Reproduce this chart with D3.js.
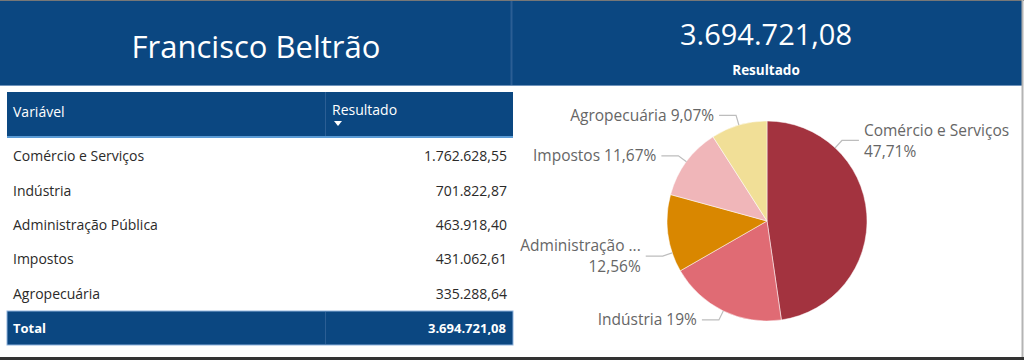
<!DOCTYPE html>
<html>
<head>
<meta charset="utf-8">
<script src="https://cdn.jsdelivr.net/npm/d3@7"></script>
<style>
  body { margin: 0; background: #fff; }
  svg { display: block; font-family: "Open Sans", "Noto Sans", sans-serif; }
</style>
</head>
<body>
<svg id="chart" width="1024" height="360"></svg>
<script>
// data
const cityName = "Francisco Beltrão";
const categories = ["Comércio e Serviços", "Indústria", "Administração Pública", "Impostos", "Agropecuária"];
const values = [1762628.55, 701822.87, 463918.40, 431062.61, 335288.64];
const totalValue = 3694721.08;
const columnHeaders = ["Variável", "Resultado"];
const kpiLabel = "Resultado";
const totalLabel = "Total";

const colors = ["#a3333f", "#e06b74", "#d98700", "#f0b6b9", "#f1df97"];
const navy = "#0b4781";

const locale = d3.formatLocale({decimal: ",", thousands: ".", grouping: [3], currency: ["R$", ""]});
const fmtNum = locale.format(",.2f");
function fmtPct(v) {
    return (+(v * 100).toFixed(2)).toString().replace(".", ",") + "%";
}

const svg = d3.select("#chart");

// frame + header band
svg.append("rect").attr("x", 0).attr("y", 0).attr("width", 1024).attr("height", 360).attr("fill", "#fff");
svg.append("rect").attr("x", 0).attr("y", 1).attr("width", 1022).attr("height", 84).attr("fill", navy);
svg.append("line").attr("x1", 0).attr("x2", 1022).attr("y1", 85.5).attr("y2", 85.5).attr("stroke", "#6f93bb");
svg.append("line").attr("x1", 511.5).attr("x2", 511.5).attr("y1", 1).attr("y2", 85).attr("stroke", "#2b5e94").attr("stroke-width", 2);
svg.append("line").attr("x1", 0).attr("x2", 1024).attr("y1", 0.5).attr("y2", 0.5).attr("stroke", "#777");
svg.append("line").attr("x1", 1022.5).attr("x2", 1022.5).attr("y1", 0).attr("y2", 360).attr("stroke", "#b4b4b4").attr("stroke-width", 2);
svg.append("line").attr("x1", 0).attr("x2", 1024).attr("y1", 358.5).attr("y2", 358.5).attr("stroke", "#333").attr("stroke-width", 3);

// title cards
svg.append("text").attr("x", 256).attr("y", 47).attr("dy", "0.35em")
    .attr("text-anchor", "middle").attr("fill", "#fff").style("font-size", "31px")
    .text(cityName);
svg.append("text").attr("x", 766).attr("y", 35).attr("dy", "0.35em")
    .attr("text-anchor", "middle").attr("fill", "#fff").style("font-size", "29px")
    .text(fmtNum(totalValue));
svg.append("text").attr("x", 766).attr("y", 70).attr("dy", "0.35em")
    .attr("text-anchor", "middle").attr("fill", "#fff").style("font-size", "13.5px").style("font-weight", "bold")
    .text(kpiLabel);

// table
const tLeft = 7, tRight = 513, tDiv = 325;
const table = svg.append("g");
table.append("rect").attr("x", tLeft).attr("y", 92).attr("width", tRight - tLeft).attr("height", 45).attr("fill", navy);
table.append("line").attr("x1", tLeft).attr("x2", tRight).attr("y1", 137).attr("y2", 137).attr("stroke", "#5b9bd5").attr("stroke-width", 2);
table.append("line").attr("x1", tDiv + 0.5).attr("x2", tDiv + 0.5).attr("y1", 92).attr("y2", 136).attr("stroke", "#2b5e94");
table.append("text").attr("x", 13).attr("y", 112).attr("dy", "0.35em").attr("fill", "#fff")
    .style("font-size", "14px").text(columnHeaders[0]);
table.append("text").attr("x", 332).attr("y", 110).attr("dy", "0.35em").attr("fill", "#fff")
    .style("font-size", "14px").text(columnHeaders[1]);
table.append("path").attr("d", "M334,121 L342,121 L338,126 Z").attr("fill", "#fff");

const y = d3.scaleBand().domain(categories).range([139, 311]);
const rows = table.selectAll("g.row").data(categories).enter().append("g").attr("class", "row");
rows.append("text").attr("x", 13).attr("y", d => y(d) + y.bandwidth() / 2).attr("dy", "0.35em")
    .attr("fill", "#2b2a29").style("font-size", "14px").text(d => d);
rows.append("text").attr("x", 507).attr("y", d => y(d) + y.bandwidth() / 2).attr("dy", "0.35em")
    .attr("text-anchor", "end").attr("fill", "#2b2a29").style("font-size", "14px")
    .text((d, i) => fmtNum(values[i]));

table.append("rect").attr("x", tLeft).attr("y", 311).attr("width", tRight - tLeft).attr("height", 34).attr("fill", navy)
    .attr("stroke", "#8fb3dd").attr("stroke-width", 1);
table.append("line").attr("x1", tDiv + 0.5).attr("x2", tDiv + 0.5).attr("y1", 312).attr("y2", 344).attr("stroke", "#2b5e94");
table.append("text").attr("x", 13).attr("y", 328).attr("dy", "0.35em").attr("fill", "#fff")
    .style("font-size", "13px").style("font-weight", "bold").text(totalLabel);
table.append("text").attr("x", 506).attr("y", 328).attr("dy", "0.35em").attr("text-anchor", "end").attr("fill", "#fff")
    .style("font-size", "13px").style("font-weight", "bold").text(fmtNum(totalValue));

// pie
const cx = 767, cy = 221, r = 100;
const pieData = d3.pie().sort(null).value(d => d.v)(categories.map((c, i) => ({c: c, v: values[i], i: i})));
const arc = d3.arc().innerRadius(0).outerRadius(r);
const pieG = svg.append("g").attr("transform", `translate(${cx},${cy})`);
pieG.selectAll("path").data(pieData).enter().append("path")
    .attr("d", arc).attr("fill", d => colors[d.data.i]).attr("stroke", "#fff").attr("stroke-width", 0.5);

// labels; two-line (wrapped) labels get pulled to a quarter of their slice, like Power BI does
const elbowR = 110, legLen = 17, gap = 5, labelSize = "15.5px";
const panelLeft = 514 - cx, panelRight = 1018 - cx;

function textWidth(s) {
    const t = pieG.append("text").style("font-size", labelSize).text(s);
    const w = t.node().getComputedTextLength();
    t.remove();
    return w;
}

pieData.forEach(d => {
    const name = d.data.c, pct = fmtPct(d.data.v / totalValue);
    let a = (d.startAngle + d.endAngle) / 2;
    const right = Math.sin(a) > 0;
    const txAt = ang => Math.sin(ang) * elbowR + (right ? legLen + gap : -legLen - gap);
    const availAt = ang => right ? panelRight - txAt(ang) : txAt(ang) - panelLeft;
    const wrap = textWidth(name + " " + pct) > availAt(a);
    if (wrap) a = d.startAngle + (d.endAngle - d.startAngle) * 0.25;

    const p0 = [Math.sin(a) * r, -Math.cos(a) * r];
    const p1 = [Math.sin(a) * elbowR, -Math.cos(a) * elbowR];
    const p2 = [p1[0] + (right ? legLen : -legLen), p1[1]];
    pieG.append("polyline").attr("points", [p0, p1, p2].map(p => p.join(",")).join(" "))
        .attr("fill", "none").attr("stroke", "#bdbdbd").attr("stroke-width", 1.2);

    const tx = txAt(a), avail = availAt(a);
    const t = pieG.append("text").attr("x", tx).attr("y", p1[1]).attr("dy", "0.35em")
        .attr("text-anchor", right ? "start" : "end").attr("fill", "#666")
        .style("font-size", labelSize);
    if (!wrap) {
        t.text(name + " " + pct);
        return;
    }
    let s = name, line = name;
    while (textWidth(line) > avail && s.length > 1) {
        s = s.slice(0, -1).trimEnd();
        line = s + " ...";
    }
    t.append("tspan").attr("x", tx).attr("y", p1[1] - 10).attr("dy", "0.35em").text(line);
    t.append("tspan").attr("x", tx).attr("y", p1[1] + 11).attr("dy", "0.35em").text(pct);
});
</script>
</body>
</html>
